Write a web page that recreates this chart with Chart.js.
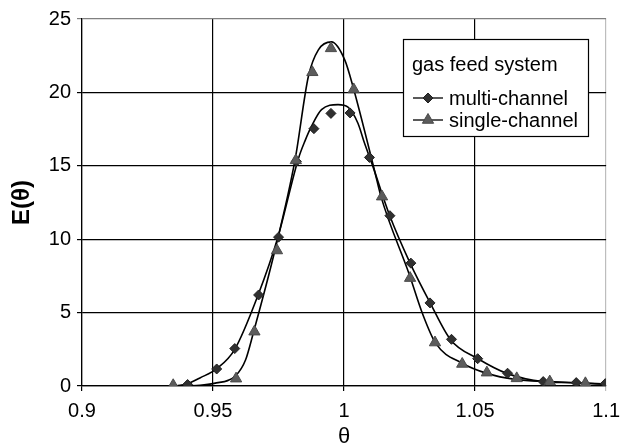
<!DOCTYPE html>
<html>
<head>
<meta charset="utf-8">
<script src="https://cdn.jsdelivr.net/npm/chart.js@4"></script>
<style>
  html, body { margin: 0; padding: 0; background: #ffffff; }
  #wrap { width: 628px; height: 448px; position: relative; }
</style>
</head>
<body>
<div id="wrap"><canvas id="c"></canvas></div>
<script>
// ---- data ----
const xTicks = [0.9, 0.95, 1.0, 1.05, 1.1];
const yTicks = [0, 5, 10, 15, 20, 25];

const legendTitle = 'gas feed system';
const seriesNames = ['multi-channel', 'single-channel'];

// measured points: multi-channel (diamonds)
const multiX = [0.9403, 0.9514, 0.9583, 0.9674, 0.9750, 0.9818, 0.9885, 0.9950, 1.0023, 1.0097, 1.0175, 1.0255, 1.0328, 1.0410, 1.0510, 1.0624, 1.0760, 1.0886, 1.0997];
const multiY = [0.10, 1.16, 2.55, 6.20, 10.14, 15.30, 17.53, 18.57, 18.60, 15.57, 11.60, 8.37, 5.66, 3.18, 1.86, 0.87, 0.30, 0.23, 0.16];

// measured points: single-channel (triangles)
const singleX = [0.9348, 0.9588, 0.9658, 0.9744, 0.9816, 0.9879, 0.9950, 1.0037, 1.0145, 1.0252, 1.0347, 1.0451, 1.0545, 1.0659, 1.0785, 1.0921];
const singleY = [0.05, 0.50, 3.70, 9.23, 15.37, 21.37, 23.00, 20.20, 12.90, 7.35, 2.96, 1.50, 0.91, 0.52, 0.30, 0.18];

// fitted curve: multi-channel
const multiCurveX = [0.936, 0.9403, 0.945, 0.9516, 0.9583, 0.9672, 0.9747, 0.9826, 0.9851, 0.9876, 0.9914, 0.9977, 1.0015, 1.0053, 1.0078, 1.0110, 1.0173, 1.0252, 1.0328, 1.0407, 1.0508, 1.0621, 1.0760, 1.0886, 1.1];
const multiCurveY = [0, 0.15, 0.55, 1.2, 2.5, 6.2, 10.1, 15.5, 16.7, 17.7, 18.83, 19.17, 19.0, 17.9, 16.55, 14.96, 11.66, 8.37, 5.68, 3.14, 1.89, 0.86, 0.30, 0.22, 0.13];

// fitted curve: single-channel
const singleCurveX = [0.934, 0.945, 0.9504, 0.9586, 0.9624, 0.9655, 0.9737, 0.9813, 0.9864, 0.9902, 0.9952, 1.0003, 1.0034, 1.0116, 1.0141, 1.0249, 1.0300, 1.0350, 1.0451, 1.0545, 1.0653, 1.0785, 1.0924, 1.1];
const singleCurveY = [0, 0.05, 0.18, 0.7, 1.77, 3.7, 9.3, 15.4, 21.1, 22.9, 23.44, 22.2, 20.4, 14.7, 12.9, 7.6, 4.9, 2.9, 1.55, 0.86, 0.45, 0.30, 0.18, 0.12];

// ---- helpers ----
const zip = (xs, ys) => xs.map((x, i) => ({ x: x, y: ys[i] }));
const FONT = "'Liberation Sans', Arial, sans-serif";

const multiStyle = { pointStyle: 'rectRot', radius: 5, fill: '#303030', stroke: '#202020' };
const singleStyle = { pointStyle: 'triangle', radius: 6.5, fill: '#5c5c5c', stroke: '#4a4a4a' };

const legendPlugin = {
  id: 'boxLegend',
  afterDraw(chart) {
    const ctx = chart.ctx;
    const box = { l: 403, t: 39, r: 589, b: 137 };
    ctx.save();
    ctx.fillStyle = '#ffffff';
    ctx.fillRect(box.l, box.t, box.r - box.l, box.b - box.t);
    ctx.strokeStyle = '#000000';
    ctx.lineWidth = 1.2;
    ctx.strokeRect(box.l + 0.5, box.t + 0.5, box.r - box.l - 1, box.b - box.t - 1);
    ctx.fillStyle = '#000000';
    ctx.font = '20px ' + FONT;
    ctx.textBaseline = 'alphabetic';
    ctx.textAlign = 'left';
    ctx.fillText(legendTitle, 412, 71);
    const rows = [
      { y: 98, style: multiStyle, text: seriesNames[0] },
      { y: 120, style: singleStyle, text: seriesNames[1] }
    ];
    rows.forEach(r => {
      ctx.strokeStyle = '#000000';
      ctx.lineWidth = 1.3;
      ctx.beginPath();
      ctx.moveTo(413, r.y);
      ctx.lineTo(443, r.y);
      ctx.stroke();
      ctx.fillStyle = r.style.fill;
      ctx.strokeStyle = r.style.stroke;
      ctx.lineWidth = 1;
      Chart.helpers.drawPoint(ctx, { pointStyle: r.style.pointStyle, radius: r.style.radius, borderWidth: 1, rotation: 0 }, 428, r.y);
      ctx.fillStyle = '#000000';
      ctx.font = '20px ' + FONT;
      ctx.textBaseline = 'middle';
      ctx.fillText(r.text, 449, r.y + 1);
    });
    ctx.restore();
  }
};

const bgPlugin = {
  id: 'bg',
  beforeDraw(chart) {
    const ctx = chart.ctx;
    ctx.save();
    ctx.fillStyle = '#ffffff';
    ctx.fillRect(0, 0, chart.width, chart.height);
    ctx.restore();
  }
};

const fmt = v => String(+(+v).toFixed(2));

new Chart(document.getElementById('c'), {
  type: 'scatter',
  data: {
    datasets: [
      {
        label: seriesNames[1],
        data: zip(singleX, singleY),
        pointStyle: singleStyle.pointStyle,
        pointRadius: singleStyle.radius,
        pointBackgroundColor: singleStyle.fill,
        pointBorderColor: singleStyle.stroke,
        pointBorderWidth: 1,
        showLine: false,
        order: 0
      },
      {
        label: seriesNames[0],
        data: zip(multiX, multiY),
        pointStyle: multiStyle.pointStyle,
        pointRadius: multiStyle.radius,
        pointBackgroundColor: multiStyle.fill,
        pointBorderColor: multiStyle.stroke,
        pointBorderWidth: 1,
        showLine: false,
        order: 1
      },
      {
        label: 'multi fit',
        data: zip(multiCurveX, multiCurveY),
        showLine: true,
        borderColor: '#000000',
        borderWidth: 1.6,
        pointRadius: 0,
        cubicInterpolationMode: 'monotone',
        fill: false,
        order: 2
      },
      {
        label: 'single fit',
        data: zip(singleCurveX, singleCurveY),
        showLine: true,
        borderColor: '#000000',
        borderWidth: 1.6,
        pointRadius: 0,
        cubicInterpolationMode: 'monotone',
        fill: false,
        order: 3
      }
    ]
  },
  options: {
    responsive: true,
    maintainAspectRatio: false,
    animation: false,
    events: [],
    layout: { padding: { left: 0, right: 18, top: 19, bottom: 0 } },
    plugins: {
      legend: { display: false },
      tooltip: { enabled: false }
    },
    scales: {
      x: {
        type: 'linear',
        min: 0.9,
        max: 1.1,
        afterBuildTicks: s => { s.ticks = xTicks.map(v => ({ value: v })); },
        afterFit: s => { s.height = 62; },
        ticks: {
          callback: v => fmt(v),
          color: '#000000',
          font: { family: FONT, size: 20 },
          padding: 8,
          maxRotation: 0,
          autoSkip: false
        },
        grid: {
          color: ctx => (ctx.tick && ctx.tick.value === 1.1) ? '#bdbdbd' : '#000000',
          lineWidth: 1.2,
          tickLength: 5,
          drawTicks: true
        },
        border: { display: true, color: '#000000', width: 1.2 },
        title: {
          display: true,
          text: 'θ',
          color: '#000000',
          font: { family: FONT, size: 22, lineHeight: 1 },
          padding: { top: 0, bottom: 0 }
        }
      },
      y: {
        type: 'linear',
        min: 0,
        max: 25,
        afterBuildTicks: s => { s.ticks = yTicks.map(v => ({ value: v })); },
        afterFit: s => { s.width = 82; },
        ticks: {
          callback: v => fmt(v),
          color: '#000000',
          font: { family: FONT, size: 20 },
          padding: 6
        },
        grid: {
          color: ctx => (ctx.tick && ctx.tick.value === 25) ? '#808080' : '#000000',
          lineWidth: 1.2,
          tickLength: 5,
          drawTicks: true
        },
        border: { display: true, color: '#000000', width: 1.2 },
        title: {
          display: true,
          text: 'E(θ)',
          color: '#000000',
          font: { family: FONT, size: 24, weight: 'bold', lineHeight: 1 },
          padding: { top: 10, bottom: 0 }
        }
      }
    }
  },
  plugins: [bgPlugin, legendPlugin]
});
</script>
</body>
</html>
